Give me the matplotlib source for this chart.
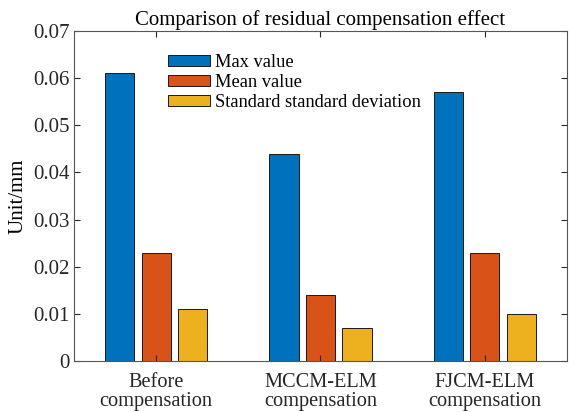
import matplotlib
matplotlib.use("Agg")
import matplotlib.pyplot as plt
import numpy as np

plt.rcParams['font.family'] = ['Liberation Serif', 'DejaVu Serif']

categories = ["Before\ncompensation", "MCCM-ELM\ncompensation", "FJCM-ELM\ncompensation"]
series_names = ["Max value", "Mean value", "Standard standard deviation"]
max_values = [0.061, 0.044, 0.057]
mean_values = [0.023, 0.014, 0.023]
std_values = [0.011, 0.007, 0.010]
yticks = [0, 0.01, 0.02, 0.03, 0.04, 0.05, 0.06, 0.07]
ytick_labels = ["0", "0.01", "0.02", "0.03", "0.04", "0.05", "0.06", "0.07"]

colors = ["#0072BD", "#D95319", "#EDB120"]

fig = plt.figure(figsize=(5.69, 4.12), dpi=100)
ax = fig.add_axes([0.130, 0.1238, 0.8665, 0.801])

x = np.arange(1, len(categories) + 1)
width = 0.178
offsets = [-0.222, 0.0, 0.222]
for vals, off, col, name in zip([max_values, mean_values, std_values], offsets, colors, series_names):
    ax.bar(x + off, vals, width, color=col, edgecolor="#1a1a1a", linewidth=0.7, label=name)

ax.set_xlim(0.5, 3.5)
ax.set_ylim(0, 0.07)
ax.set_xticks(x)
ax.set_xticklabels(categories, fontsize=14.7, linespacing=1.0)
ax.set_yticks(yticks)
ax.set_yticklabels(ytick_labels, fontsize=15)
ax.tick_params(axis="y", direction="in", right=True, length=4, width=0.8, colors="#262626", pad=3)
ax.tick_params(axis="x", direction="in", top=True, length=4, width=0.8, colors="#262626", pad=8.5)
for sp in ax.spines.values():
    sp.set_color("#555555")
    sp.set_linewidth(0.8)

ax.set_ylabel("Unit/mm", fontsize=15, labelpad=4)
ax.set_title("Comparison of residual compensation effect", fontsize=15, pad=4)

leg = ax.legend(loc="upper left", bbox_to_anchor=(0.19, 0.93), frameon=False, fontsize=13.3,
                handlelength=2.27, handleheight=0.6, handletextpad=0.3, labelspacing=0.16,
                borderpad=0.0, borderaxespad=0.0)

fig.savefig("out.png", dpi=100)
